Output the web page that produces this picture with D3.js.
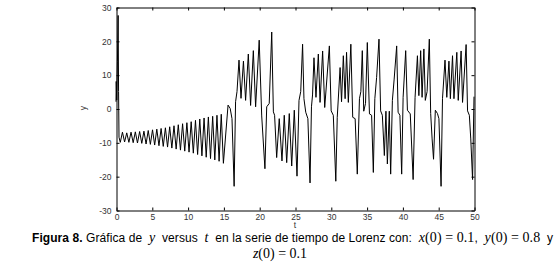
<!DOCTYPE html>
<html lang="es">
<head>
<meta charset="UTF-8"/>
<title>Serie de tiempo de Lorenz</title>
<script src="https://d3js.org/d3.v7.min.js"></script>
<style>
  body { margin: 0; background: #fff; }
  svg text { white-space: pre; }
</style>
</head>
<body>
<script>
	// times and y values (peaks / troughs of the trace)
	var tValues = [0, 0.03, 0.1, 0.2, 0.3, 0.36, 0.42, 0.6,
		0.9, 1.2, 1.5, 1.8, 2.1, 2.4, 2.7, 3.0, 3.3, 3.6, 3.9, 4.2, 4.5, 4.8, 5.1, 5.4,
		5.7, 6.0, 6.3, 6.6, 6.9, 7.2, 7.5, 7.8, 8.1, 8.4, 8.7, 9.0, 9.3, 9.6, 9.9, 10.2,
		10.5, 10.8, 11.1, 11.4, 11.7, 12.0, 12.3, 12.6, 12.9, 13.2, 13.5, 13.8, 14.1, 14.4,
		14.7, 15.0,
		15.65, 15.95, 16.2, 16.5, 16.7, 16.9, 17.18, 17.46, 17.8, 18.1, 18.48, 18.8, 19.18, 19.5,
		20.0, 20.35, 20.8, 21.05, 21.4, 21.75, 21.98, 22.15, 22.44, 22.8, 23.18, 23.5, 23.84, 24.2,
		24.54, 24.9, 25.28, 25.56, 25.8, 26.06, 26.25, 26.5, 26.8, 27.1, 27.3, 27.45, 27.65, 27.93,
		28.26, 28.5, 28.86, 29.15, 29.8, 30.05, 30.35, 30.7, 30.9, 31.3, 31.5, 31.75, 32.0, 32.2,
		32.45, 32.8, 33.06, 33.4, 33.7, 34.0, 34.2, 34.4, 34.6, 34.85, 35.1, 35.4, 35.7, 35.94,
		36.15, 36.4, 36.73, 36.96, 37.2, 37.48, 37.7, 37.9, 38.17, 38.36, 38.6, 38.85, 39.2, 39.4,
		39.65, 39.9, 40.1, 40.46, 40.7, 41.1, 41.5, 41.77, 42.1, 42.3, 42.55, 42.75, 43.0, 43.2,
		43.45, 43.76, 43.95, 44.15, 44.35, 44.6, 44.9, 45.1, 45.4, 45.6, 45.95, 46.2, 46.5, 46.7,
		47.0, 47.2, 47.6, 47.8, 48.2, 48.4, 48.9, 49.1, 49.35, 49.55, 49.8, 50];

	var yValues = [2, 8, 2.5, 14, 27.5, 5, -8.5, -10,
		-7.0, -9.9, -7.2, -10.0, -7.0, -10.1, -6.9, -10.2, -6.8, -10.3, -6.7, -10.5, -6.5, -10.6, -6.3, -10.8,
		-6.1, -11.0, -5.9, -11.2, -5.7, -11.4, -5.4, -11.7, -5.1, -12.0, -4.8, -12.3, -4.5, -12.6, -4.2, -12.9,
		-3.9, -13.2, -3.5, -13.6, -3.1, -14.0, -2.8, -14.4, -2.5, -14.8, -2.3, -15.2, -2.0, -15.6,
		-1.7, -16.2,
		1, 0, -3, -23, 2, 5, 14.3, 3, 14, 2.4, 16.1, 0.9, 17.1, 0.5,
		20.2, -2.2, -17.8, 0.5, 1.5, 22.6, -1, -2, -14.5, -3, -15.5, -2, -16, -1.5,
		-17, -0.5, -20, 2.4, 5, 19, 2.9, -1.1, -3, -22, 0.5, 4, 15, 3.3,
		16.1, 1.8, 17, 0.3, 18.5, -0.7, -2, -21.5, -2.6, 12.1, 2, 15.6, 2.9, 16.6,
		1.8, 19, -2.6, -3, -19.4, 2.9, 5, 17.1, -0.8, 1.5, 19.5, -1.6, -2, -18.9,
		2.9, 9.2, 20.5, -0.7, -2, -13.9, -0.8, -16.4, -0.8, -19.4, 2.4, 8.7, 18.5, -1.1,
		-2, -19.4, 3.3, 17.1, -0.5, -1.6, -21, 3.3, 15.6, 3.8, 17.1, 3.3, 17.6, 2.4,
		5, 20.5, -1.5, -9, -15, -0.5, -1.5, -3, -23, 2.9, 14.3, 3.3, 14, 2.9,
		15.6, 2.9, 16.6, 2.4, 17, 1.8, 18.9, -0.7, -2, -9, -21, 3.5];

	var xTicks = [0, 5, 10, 15, 20, 25, 30, 35, 40, 45, 50];
	var yTicks = [-30, -20, -10, 0, 10, 20, 30];

	var w = 560;
	var h = 266;
	var plotL = 116, plotR = 474, plotT = 7, plotB = 210;

	var series = tValues.map(function (t, i) { return [t, yValues[i]]; });

	var svg = d3.select("body")
				.append("svg")
				.attr("width", w)
				.attr("height", h)
				.style("background", "#fff");

	var xScale = d3.scaleLinear()
				.domain([0, 50])
				.range([plotL, plotR]);

	var yScale = d3.scaleLinear()
				.domain([-30, 30])
				.range([plotB, plotT]);

	//------------trace-------------
	var line = d3.line()
				.x(function (d) { return xScale(d[0]); })
				.y(function (d) { return yScale(d[1]); });

	svg.append("path")
		.datum(series)
		.attr("d", line)
		.attr("fill", "none")
		.attr("stroke", "#000")
		.attr("stroke-width", 1)
		.attr("stroke-linejoin", "miter");

	//------------axes (ticks inside, box on)-------------
	var plain = function (d) { return String(d); }; // hyphen minus like the print

	function styleAxis(g, labels) {
		g.select(".domain").attr("stroke", "#000");
		g.selectAll(".tick line").attr("stroke", "#000");
		g.selectAll(".tick text")
			.attr("fill", "#333")
			.style("font-family", "'Liberation Sans', Arial, sans-serif")
			.style("font-size", "8.5px");
		if (!labels) g.selectAll(".tick text").remove();
	}

	svg.append("g")
		.attr("transform", "translate(0.5," + (plotB + 0.5) + ")")
		.call(d3.axisBottom(xScale).tickValues(xTicks).tickFormat(plain).tickSizeInner(-3).tickSizeOuter(0).tickPadding(3))
		.call(styleAxis, true);

	svg.append("g")
		.attr("transform", "translate(0.5," + (plotT + 0.5) + ")")
		.call(d3.axisTop(xScale).tickValues(xTicks).tickSizeInner(-3).tickSizeOuter(0))
		.call(styleAxis, false);

	svg.append("g")
		.attr("transform", "translate(" + (plotL + 0.5) + ",0.5)")
		.call(d3.axisLeft(yScale).tickValues(yTicks).tickFormat(plain).tickSizeInner(-3).tickSizeOuter(0).tickPadding(5))
		.call(styleAxis, true);

	svg.append("g")
		.attr("transform", "translate(" + (plotR + 0.5) + ",0.5)")
		.call(d3.axisRight(yScale).tickValues(yTicks).tickSizeInner(-3).tickSizeOuter(0))
		.call(styleAxis, false);

	//------------axis labels-------------
	svg.append("text")
		.text("t")
		.attr("x", (plotL + plotR) / 2)
		.attr("y", 228)
		.attr("text-anchor", "middle")
		.attr("fill", "#333")
		.style("font-family", "'Liberation Sans', Arial, sans-serif")
		.style("font-size", "8.5px");

	svg.append("text")
		.text("y")
		.attr("transform", "translate(86,108) rotate(-90)")
		.attr("text-anchor", "middle")
		.attr("fill", "#333")
		.style("font-family", "'Liberation Sans', Arial, sans-serif")
		.style("font-size", "8.5px");

	//------------caption-------------
	var sans = "'Liberation Sans', Arial, sans-serif";
	var serif = "'Liberation Serif', 'Times New Roman', serif";

	var cap1 = svg.append("text")
		.attr("x", 32)
		.attr("y", 242)
		.attr("fill", "#000")
		.style("font-family", sans)
		.style("font-size", "12px");

	var parts = [
		{ s: "Figura 8.", f: sans, b: true },
		{ s: " Gráfica de  ", f: sans },
		{ s: "y", f: serif, i: true },
		{ s: "  versus  ", f: sans },
		{ s: "t", f: serif, i: true },
		{ s: "  en la serie de tiempo de Lorenz con:  ", f: sans },
		{ s: "x", f: serif, i: true },
		{ s: "(0) = 0.1", f: serif },
		{ s: ",  ", f: sans },
		{ s: "y", f: serif, i: true },
		{ s: "(0) = 0.8", f: serif },
		{ s: "  y", f: sans }
	];

	parts.forEach(function (p) {
		cap1.append("tspan")
			.text(p.s)
			.style("font-family", p.f)
			.style("font-size", p.f === serif ? "14px" : "12px")
			.style("font-weight", p.b ? "bold" : "normal")
			.style("font-style", p.i ? "italic" : "normal");
	});

	// fit to the width of the printed line
	cap1.attr("textLength", 521).attr("lengthAdjust", "spacing");

	var cap2 = svg.append("text")
		.attr("x", 280)
		.attr("y", 258)
		.attr("text-anchor", "middle")
		.attr("fill", "#000")
		.style("font-family", serif)
		.style("font-size", "14px");
	cap2.append("tspan").text("z").style("font-style", "italic");
	cap2.append("tspan").text("(0) = 0.1");
</script>
</body>
</html>
